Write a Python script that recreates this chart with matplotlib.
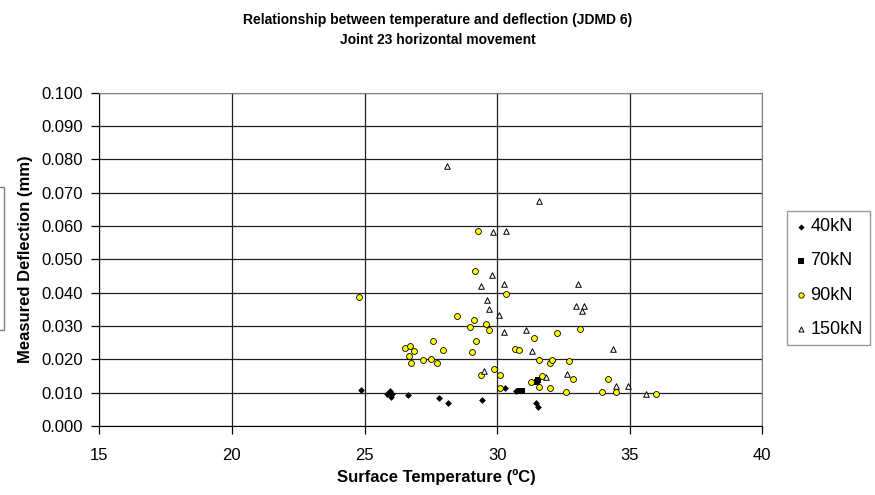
import matplotlib
matplotlib.use("Agg")
import matplotlib.pyplot as plt
from matplotlib.patches import Rectangle

plt.rcParams['font.family'] = ['Liberation Sans', 'DejaVu Sans']

title_1 = "Relationship between temperature and deflection (JDMD 6)"
title_2 = "Joint 23 horizontal movement"
xlabel = "Surface Temperature (ºC)"
ylabel = "Measured Deflection (mm)"

x_ticks = [15, 20, 25, 30, 35, 40]
y_ticks = [0.000, 0.010, 0.020, 0.030, 0.040, 0.050, 0.060, 0.070, 0.080, 0.090, 0.100]

t_40 = [24.87, 25.84, 25.98, 26.05, 26.00, 26.64, 27.80, 28.16, 29.43, 30.31, 30.71, 31.47, 31.53]
d_40 = [0.0109, 0.0097, 0.0106, 0.0096, 0.0086, 0.0093, 0.0085, 0.0068, 0.0078, 0.0114, 0.0105, 0.0068, 0.0058]

t_70 = [30.85, 30.93, 31.50, 31.54]
d_70 = [0.0105, 0.0105, 0.0133, 0.0137]

t_90 = [24.79, 26.53, 26.70, 26.87, 26.69, 26.76, 27.21, 27.52, 27.73, 27.57, 27.95,
        28.50, 28.98, 29.12, 29.05, 29.19, 29.18, 29.27, 29.39, 29.59, 29.69, 29.89,
        30.11, 30.11, 30.34, 30.67, 30.83, 31.29, 31.39, 31.59, 31.59, 31.70, 31.99,
        32.07, 32.01, 32.25, 32.59, 32.71, 32.86, 33.11, 33.94, 34.18, 34.48, 35.99]
d_90 = [0.0387, 0.0234, 0.0241, 0.0226, 0.0211, 0.0189, 0.0199, 0.0202, 0.0189, 0.0256, 0.0229,
        0.0330, 0.0298, 0.0319, 0.0221, 0.0254, 0.0466, 0.0585, 0.0153, 0.0305, 0.0289, 0.0170,
        0.0153, 0.0115, 0.0397, 0.0232, 0.0229, 0.0132, 0.0265, 0.0199, 0.0118, 0.0150, 0.0189,
        0.0197, 0.0115, 0.0278, 0.0102, 0.0194, 0.0142, 0.0292, 0.0102, 0.0142, 0.0102, 0.0096]

t_150 = [28.12, 31.59, 29.83, 30.35, 29.80, 29.39, 30.27, 33.05, 29.63, 29.69, 32.99, 33.28,
         33.20, 30.08, 30.27, 31.09, 31.33, 34.36, 29.50, 32.65, 31.84, 34.48, 34.95, 35.61]
d_150 = [0.0780, 0.0675, 0.0582, 0.0584, 0.0454, 0.0420, 0.0426, 0.0425, 0.0378, 0.0351, 0.0361, 0.0361,
         0.0345, 0.0332, 0.0283, 0.0288, 0.0226, 0.0231, 0.0164, 0.0156, 0.0146, 0.0120, 0.0120, 0.0095]

W, H = 875, 495
fig = plt.figure(figsize=(W/100, H/100), dpi=100)
ax = fig.add_axes([99.3/W, (H-426)/H, 663/W, 333.3/H])

ax.set_xlim(15, 40)
ax.set_ylim(0, 0.1)
ax.set_xticks(x_ticks)
ax.set_yticks(y_ticks)
ax.set_yticklabels([f"{v:.3f}" for v in y_ticks])
ax.grid(True, color='#202020', linewidth=0.9)
ax.set_axisbelow(True)

ax.scatter(t_40, d_40, marker='D', s=12, color='black', linewidths=0, label='40kN', zorder=3)
ax.scatter(t_70, d_70, marker='s', s=22, color='black', linewidths=0, label='70kN', zorder=3)
ax.scatter(t_90, d_90, marker='o', s=18, facecolor='#ffff00', edgecolor='black', linewidths=0.6, label='90kN', zorder=3)
ax.scatter(t_150, d_150, marker='^', s=16, facecolor='white', edgecolor='black', linewidths=0.7, label='150kN', zorder=3)

for side in ['top', 'right']:
    ax.spines[side].set_color('#808080')
for side in ['left', 'bottom']:
    ax.spines[side].set_color('black')
ax.tick_params(axis='x', labelsize=12, length=6, width=0.9, color='black', pad=10)
ax.tick_params(axis='y', labelsize=12, length=6, width=0.9, color='black', pad=6)

fig.text(0.5, 1 - 20/H, title_1, ha='center', va='center', fontsize=10, fontweight='bold')
fig.text(0.5, 1 - 40/H, title_2, ha='center', va='center', fontsize=10, fontweight='bold')
fig.text(436/W, 1 - 477/H, xlabel, ha='center', va='center', fontsize=12, fontweight='bold')
fig.text(26/W, 1 - 259.5/H, ylabel, ha='center', va='center', rotation=90, fontsize=12, fontweight='bold')

leg = ax.legend(loc='lower left', bbox_to_anchor=(1.037, (426-345)/333.3), borderaxespad=0,
                frameon=True, fancybox=False, edgecolor='#808080', fontsize=13,
                labelspacing=0.95, handletextpad=0.1, borderpad=0.4, markerscale=0.9,
                handlelength=0.8)
leg.get_frame().set_linewidth(1.0)

fig.patches.append(Rectangle((-0.01, (H-330)/H), 0.01 + 4.3/W, (330-186.7)/H,
                             transform=fig.transFigure, fill=False, edgecolor='#808080',
                             linewidth=1.0))

fig.savefig("out.png", dpi=100)
